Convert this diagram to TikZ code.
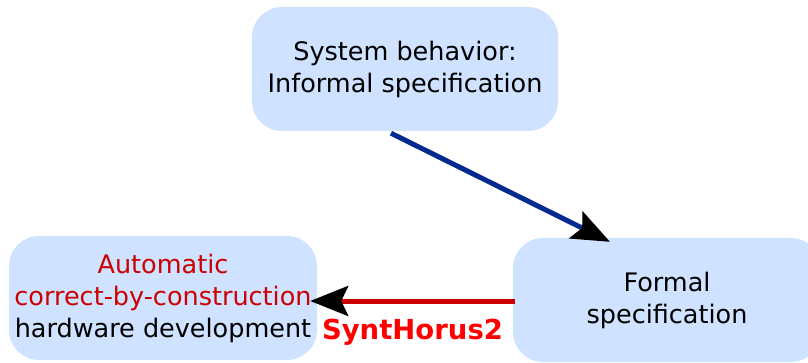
\documentclass[tikz,border=0pt]{standalone}
\usepackage{fontspec}
\setmainfont{DejaVu Sans}
\usetikzlibrary{arrows.meta}
\definecolor{boxfill}{HTML}{CFE2FF}
\definecolor{darkred}{HTML}{CC0000}
\definecolor{navy}{HTML}{002A8F}
\tikzset{
  box/.style={fill=boxfill, rounded corners=30pt, minimum width=306pt, minimum height=124pt,
    align=center, inner sep=0pt, font=\fontsize{25.5pt}{32pt}\selectfont},
  conn/.style={line width=5pt, -{Stealth[black, length=38pt, width=30pt, inset=7pt]}},
}
\begin{document}
\begin{tikzpicture}[x=1pt,y=-1pt]
\useasboundingbox (0,0) rectangle (808,363);
\node[box] (top) at (405,69) {System behavior:\\Informal specification};
\node[box, minimum width=308pt] (left) at (163,298) {\textcolor{darkred}{Automatic}\\\textcolor{darkred}{correct-by-construction}\\hardware development};
\node[box, minimum width=308pt] (right) at (667,300) {Formal\\specification};
\draw[conn, navy] ([xshift=-14pt,yshift=-2pt]top.south) -- ([xshift=-57pt,yshift=-4pt]right.north);
\draw[conn, darkred] ([xshift=2pt,yshift=-1pt]right.west) -- node[below=12pt, text=red, font=\bfseries\fontsize{27.5pt}{30pt}\selectfont] (lab) {SyntHorus2} ([xshift=-7pt,yshift=-1pt]right.west -| left.east);
\end{tikzpicture}
\end{document}
